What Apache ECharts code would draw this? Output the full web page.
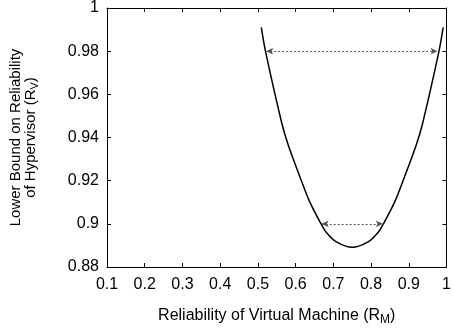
<!DOCTYPE html>
<html>
<head>
<meta charset="utf-8">
<script src="https://cdn.jsdelivr.net/npm/echarts@6/dist/echarts.min.js"></script>
<style>
  html, body { margin: 0; padding: 0; background: #fff; }
  #chart-container { width: 454px; height: 331px; }
</style>
</head>
<body>
<div id="chart-container"></div>
<script>
// reliability of virtual machine (x) vs lower bound on hypervisor reliability (y)
const curveX = [0.509, 0.520, 0.5635, 0.581, 0.612, 0.637, 0.667, 0.681, 0.708, 0.750,
  0.792, 0.819, 0.833, 0.863, 0.888, 0.919, 0.9365, 0.980, 0.991];
const curveY = [0.991, 0.980, 0.9465, 0.9362, 0.9215, 0.9103, 0.9001, 0.8961, 0.8916, 0.8891,
  0.8916, 0.8961, 0.9001, 0.9103, 0.9215, 0.9362, 0.9465, 0.980, 0.991];

// dotted double arrows
const arrowLevels = [0.98, 0.9];
const arrowFrom = [0.522, 0.669];
const arrowTo = [0.976, 0.831];

const xTicks = [0.1, 1, 0.1];   // min, max, step
const yTicks = [0.88, 1, 0.02];

(() => {
  var dom = document.getElementById("chart-container");
  var chart = echarts.init(dom, null, { renderer: "canvas" });
  const font = "Liberation Sans";
  const fs = 16;

  const axisCommon = {
    type: "value",
    axisLine: { lineStyle: { color: "#000", width: 1 } },
    axisTick: { inside: true, length: 4, lineStyle: { color: "#000" } },
    splitLine: { show: false },
  };

  const option = {
    animation: false,
    grid: { left: 105, right: 3, top: 7, bottom: 55 },
    xAxis: [
      {
        ...axisCommon,
        min: xTicks[0], max: xTicks[1], interval: xTicks[2],
        axisLabel: { color: "#000", fontFamily: font, fontSize: fs, margin: 10 },
        name: "Reliability of Virtual Machine (R{sub|M})",
        nameLocation: "middle",
        nameGap: 38,
        nameTextStyle: {
          color: "#000", fontFamily: font, fontSize: 16,
          rich: { sub: { fontFamily: font, fontSize: 12, padding: [9, 0, 0, 0], color: "#000" } },
        },
      },
      {
        ...axisCommon,
        position: "top",
        min: xTicks[0], max: xTicks[1], interval: xTicks[2],
        axisLabel: { show: false },
      },
    ],
    yAxis: [
      {
        ...axisCommon,
        min: yTicks[0], max: yTicks[1], interval: yTicks[2],
        axisLabel: { color: "#000", fontFamily: font, fontSize: fs, margin: 8 },
        name: "Lower Bound on Reliability\nof Hypervisor (R{sub|V})",
        nameLocation: "middle",
        nameRotate: 90,
        nameGap: 69,
        nameTextStyle: {
          color: "#000", fontFamily: font, fontSize: 15, lineHeight: 15,
          rich: { sub: { fontFamily: font, fontSize: 11, padding: [9, 0, 0, 0], color: "#000" } },
        },
      },
      {
        ...axisCommon,
        position: "right",
        min: yTicks[0], max: yTicks[1], interval: yTicks[2],
        axisLabel: { show: false },
      },
    ],
    series: [
      {
        type: "line",
        data: curveX.map((x, i) => [x, curveY[i]]),
        smooth: 0.3,
        showSymbol: false,
        lineStyle: { color: "#000", width: 1.5 },
        markLine: {
          silent: true,
          symbol: ["arrow", "arrow"],
          symbolSize: [5, 7],
          label: { show: false },
          lineStyle: { color: "#555", type: [2, 2], width: 1 },
          data: arrowLevels.map((lv, i) => [
            { coord: [arrowFrom[i], lv] },
            { coord: [arrowTo[i], lv] },
          ]),
        },
      },
    ],
  };
  chart.setOption(option);
  window.addEventListener("resize", chart.resize);
})();
</script>
</body>
</html>
